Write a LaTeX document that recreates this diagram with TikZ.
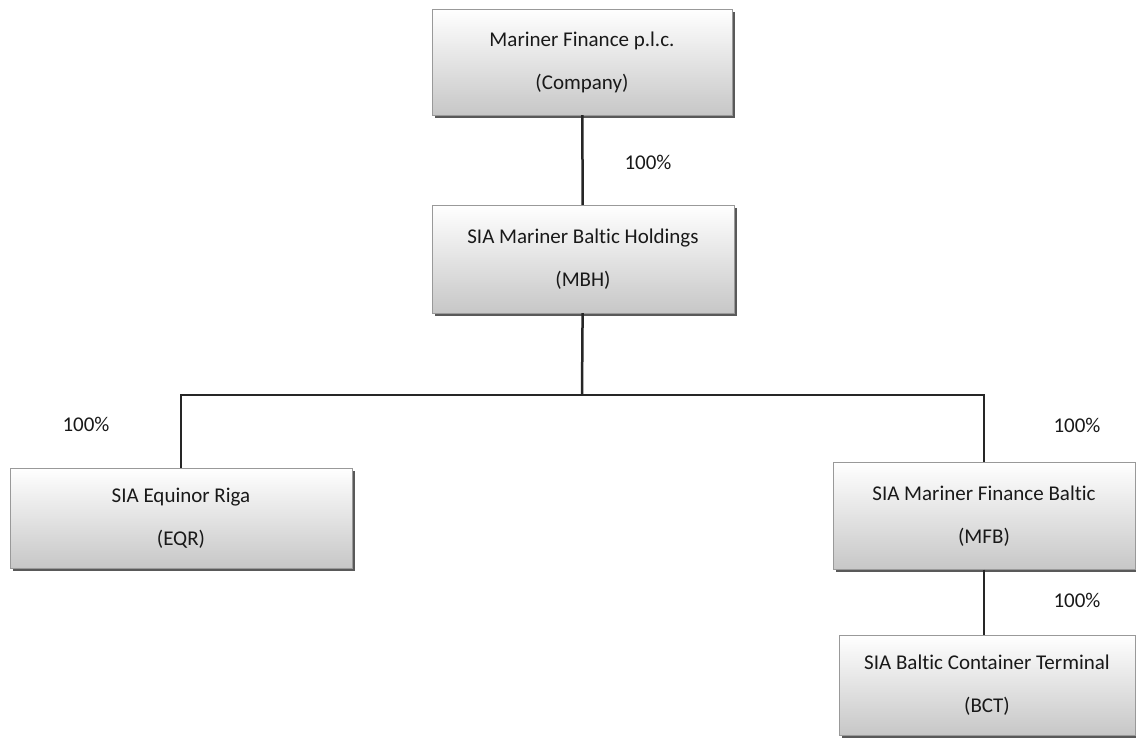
\documentclass[tikz,border=0pt]{standalone}
\usepackage{fontspec}
\setmainfont{Carlito}[Ligatures={NoCommon}, Contextuals={NoAlternate}]
\usepackage{xcolor}
\usetikzlibrary{calc,shadows}

\begin{document}
\begin{tikzpicture}[
    x=1pt, y=-1pt,                       % pixel-like units, y downwards
    every node/.style={
        font=\fontsize{21}{43}\selectfont,
        text=black!90,
        align=center
    },
    entity/.style={
        draw=black!40,
        rectangle,
        minimum width=300pt,
        minimum height=106pt,
        top color=white,
        bottom color=black!22,
        drop shadow={shadow xshift=2.5pt, shadow yshift=-2.5pt, fill=black!65, opacity=1}
    },
    pct/.style={inner sep=0pt},
    link/.style={line width=2.5pt, black!85}
]
\useasboundingbox (0,0) rectangle (1136,737);

% companies
\node[entity] (company) at (582,62) {Mariner Finance p.l.c.\\(Company)};
\node[entity, minimum width=302pt, minimum height=108pt] (mbh) at (583,259) {SIA Mariner Baltic Holdings\\(MBH)};
\node[entity, minimum width=342pt, minimum height=100pt] (eqr) at (181,518) {SIA Equinor Riga\\(EQR)};
\node[entity, minimum width=302pt, minimum height=107pt] (mfb) at (984,516) {SIA Mariner Finance Baltic\\(MFB)};
\node[entity, minimum width=296pt, minimum height=100pt] (bct) at (987,685) {SIA Baltic Container Terminal\\(BCT)};

% connectors
\coordinate (bar) at (582,395);
\draw[link] (company) -- (mbh);
\draw[link] (mbh) -- (bar);
\draw[link] (eqr.north) |- (bar) -| (mfb.north);
\draw[link] (mfb.south) -- (mfb.south |- bct.north);

% shareholdings
\node[pct] (pmbh) at (648,162) {100\%};
\node[pct] (peqr) at (86,424) {100\%};
\node[pct] (pmfb) at (1077,425) {100\%};
\node[pct] (pbct) at (1077,600) {100\%};

\end{tikzpicture}
\end{document}
